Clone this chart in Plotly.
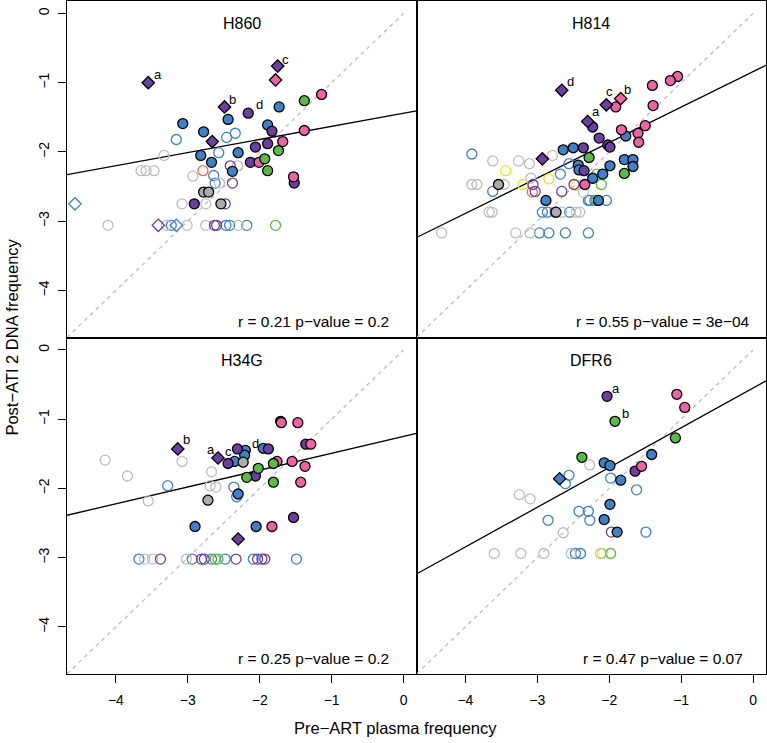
import plotly.graph_objects as go
from plotly.subplots import make_subplots

panels = ["H860", "H814", "H34G", "DFR6"]
stat_text = ["r = 0.21 p−value = 0.2", "r = 0.55 p−value = 3e−04",
             "r = 0.25 p−value = 0.2", "r = 0.47 p−value = 0.07"]
fit_intercept = [-1.44, -0.84, -1.25, -0.55]
fit_slope = [0.19, 0.512, 0.243, 0.574]
tick_vals = [-4, -3, -2, -1, 0]

# kind = colour letter + F(filled)/O(open) + D(diamond)
h860_x = [-3.55, -2.49, -2.66, -1.75, -1.78, -4.57, -3.16, -3.41,
          -3.07, -2.78, -2.44, -2.82, -2.30, -2.67, -2.38, -1.73, -1.89,
          -3.16, -2.46, -2.34, -2.57, -2.64, -2.62, -3.23, -2.47, -2.42, -2.18,
          -3.33, -3.65, -3.58, -3.47, -2.93, -2.56, -3.08, -2.75, -4.11, -3.30, -3.01, -2.75, -2.30, -2.31,
          -2.79, -2.41, -2.38, -2.48, -2.63, -2.60,
          -2.78, -2.71, -2.54,
          -2.91, -2.16, -1.83, -2.06, -1.89, -2.13, -1.52,
          -1.14, -1.38, -1.68, -2.01, -1.53,
          -1.38, -1.74, -1.93, -1.89, -1.78]
h860_y = [-1.00, -1.35, -1.85, -0.76, -0.96, -2.75, -3.06, -3.06,
          -1.59, -1.71, -1.53, -2.05, -2.01, -2.15, -2.28, -1.35, -1.61,
          -1.82, -1.79, -1.73, -2.01, -2.34, -2.45, -3.06, -3.06, -3.06, -3.06,
          -2.05, -2.27, -2.27, -2.27, -2.35, -2.45, -2.75, -2.75, -3.06, -3.06, -3.06, -3.06, -3.06, -2.20,
          -2.27, -2.20, -2.45, -2.75, -3.06, -3.06,
          -2.58, -2.58, -2.75,
          -2.75, -1.44, -1.70, -1.93, -1.88, -2.15, -2.45,
          -1.17, -1.69, -1.85, -2.15, -2.36,
          -1.26, -1.98, -2.10, -2.27, -3.06]
h860_kind = ["pFD", "pFD", "pFD", "pFD", "kFD", "bOD", "bOD", "pOD",
             "bF", "bF", "bF", "bF", "bF", "bF", "bF", "bF", "bF",
             "bO", "bO", "bO", "bO", "bO", "bO", "bO", "bO", "bO", "bO",
             "eO", "eO", "eO", "eO", "eO", "eO", "eO", "eO", "eO", "eO", "eO", "eO", "eO", "eO",
             "rO", "pO", "pO", "pO", "pO", "pO",
             "eF", "eF", "eF",
             "pF", "pF", "pF", "pF", "pF", "pF", "pF",
             "kF", "kF", "kF", "kF", "kF",
             "gF", "gF", "gF", "gF", "gO"]

h814_x = [-2.66, -2.93, -2.30, -2.04, -1.84,
          -2.64, -2.50, -2.43, -2.42, -2.88, -1.77, -1.79, -1.67, -1.67, -1.99, -2.09, -2.23, -2.15,
          -2.36, -2.35, -2.23, -2.14, -2.02, -1.99,
          -2.28, -1.79,
          -2.34, -1.05, -1.15, -1.40, -1.91, -1.39, -1.83, -1.50, -1.60, -1.59,
          -3.54, -2.74,
          -3.91, -2.68, -2.56, -3.62, -2.93, -2.86, -2.55, -2.29, -2.97, -2.84, -2.61, -2.29, -2.27, -2.20, -2.04,
          -3.62, -3.26, -3.11, -2.79, -3.91, -3.84, -3.46, -3.09, -2.36, -3.67, -3.63, -2.66, -2.46, -2.41,
          -4.33, -3.30, -3.10,
          -3.44, -3.20, -2.84, -2.46,
          -3.06, -3.03, -2.66, -2.49, -2.75,
          -3.07, -2.17, -2.11, -2.18]
h814_y = [-1.11, -2.10, -1.56, -1.32, -1.23,
          -1.97, -1.94, -2.19, -2.26, -2.70, -1.77, -2.11, -2.11, -2.21, -2.20, -2.32, -2.38, -2.70,
          -1.94, -2.27, -1.64, -1.80, -1.90, -1.93,
          -2.08, -2.31,
          -2.47, -0.91, -0.97, -1.04, -1.35, -1.33, -1.68, -1.62, -1.73, -1.86,
          -2.47, -2.87,
          -2.03, -2.32, -2.17, -2.57, -2.87, -2.87, -2.87, -2.70, -3.17, -3.17, -3.17, -3.17, -2.70, -2.70, -2.70,
          -2.13, -2.13, -2.17, -2.05, -2.47, -2.47, -2.47, -2.38, -2.58, -2.87, -2.87, -2.87, -2.87, -2.87,
          -3.17, -3.17, -3.17,
          -2.27, -2.47, -2.39, -2.48,
          -2.47, -2.57, -2.57, -2.47, -2.87,
          -2.58, -2.32, -2.47, -2.70]
h814_kind = ["pFD", "pFD", "pFD", "pFD", "kFD",
             "bF", "bF", "bF", "bF", "bF", "bF", "bF", "bF", "bF", "bF", "bF", "bF", "bF",
             "pF", "pF", "pF", "pF", "pF", "pF",
             "gF", "gF",
             "kF", "kF", "kF", "kF", "kF", "kF", "kF", "kF", "kF", "kF",
             "eF", "eF",
             "bO", "bO", "bO", "bO", "bO", "bO", "bO", "bO", "bO", "bO", "bO", "bO", "bO", "bO", "bO",
             "eO", "eO", "eO", "eO", "eO", "eO", "eO", "eO", "eO", "eO", "eO", "eO", "eO", "eO",
             "eO", "eO", "eO",
             "yO", "yO", "yO", "yO",
             "pO", "pO", "pO", "pO", "pO",
             "rO", "gO", "gO", "gO"]

h34g_x = [-3.14, -2.58, -2.30,
          -2.44, -2.31, -1.71, -1.36, -1.88, -2.06, -1.53,
          -2.35, -2.30, -2.90, -1.95, -2.20, -2.21, -2.05,
          -2.72, -2.23,
          -1.70, -1.47, -1.29, -1.76, -1.55, -1.37, -1.43, -1.83,
          -1.81, -2.02, -2.18, -1.81,
          -4.15, -3.84, -3.08, -2.67, -2.69, -2.61, -3.55, -3.60, -3.49, -3.02,
          -3.28, -2.36, -2.32, -3.68, -2.94, -2.67, -2.48, -2.09, -1.49,
          -3.38, -2.81, -2.77, -2.33, -2.03, -1.97, -1.93,
          -2.62, -2.58]
h34g_y = [-1.43, -1.56, -2.73,
          -1.64, -1.43, -1.03, -1.36, -1.43, -1.82, -2.42,
          -1.61, -2.08, -2.55, -1.42, -1.45, -1.52, -2.55,
          -2.17, -1.62,
          -1.05, -1.05, -1.36, -1.61, -1.61, -1.68, -1.91, -2.55,
          -1.64, -1.71, -1.84, -1.91,
          -1.59, -1.82, -1.61, -1.76, -1.96, -1.98, -2.18, -3.02, -3.02, -3.02,
          -1.96, -1.98, -2.12, -3.02, -3.02, -3.02, -3.02, -3.02, -3.02,
          -3.02, -3.02, -3.02, -3.02, -3.02, -3.02, -3.02,
          -3.02, -3.02]
h34g_kind = ["pFD", "pFD", "pFD",
             "pF", "pF", "pF", "pF", "pF", "pF", "pF",
             "bF", "bF", "bF", "bF", "bF", "bF", "bF",
             "eF", "eF",
             "kF", "kF", "kF", "kF", "kF", "kF", "kF", "kF",
             "gF", "gF", "gF", "gF",
             "eO", "eO", "eO", "eO", "eO", "eO", "eO", "eO", "eO", "eO",
             "bO", "bO", "bO", "bO", "bO", "bO", "bO", "bO", "bO",
             "pO", "pO", "pO", "pO", "pO", "pO", "pO",
             "gO", "gO"]

dfr6_x = [-2.69,
          -2.38, -1.92, -1.08,
          -2.03, -1.64,
          -1.06, -0.95, -1.55,
          -1.41, -2.07, -1.99, -1.84, -1.99, -2.07, -1.89,
          -2.27, -3.25, -3.10, -2.64, -3.60, -3.23, -2.91, -2.53, -2.12,
          -2.56, -2.61, -2.85, -2.42, -2.29, -2.27, -2.47, -2.40, -1.98, -1.62, -1.49,
          -1.97, -2.09, -1.98]
dfr6_y = [-1.86,
          -1.55, -1.03, -1.27,
          -0.67, -1.75,
          -0.64, -0.83, -1.68,
          -1.51, -1.63, -1.67, -1.88, -2.23, -2.45, -2.63,
          -1.66, -2.09, -2.15, -2.64, -2.94, -2.94, -2.94, -2.94, -2.94,
          -1.81, -1.93, -2.46, -2.33, -2.33, -2.46, -2.94, -2.94, -1.85, -2.02, -2.63,
          -2.63, -2.94, -2.94]
dfr6_kind = ["bFD",
             "gF", "gF", "gF",
             "pF", "pF",
             "kF", "kF", "kF",
             "bF", "bF", "bF", "bF", "bF", "bF", "bF",
             "eO", "eO", "eO", "eO", "eO", "eO", "eO", "eO", "eO",
             "bO", "bO", "bO", "bO", "bO", "bO", "bO", "bO", "bO", "bO", "bO",
             "pO", "yO", "gO"]

# letter labels next to highlighted points
h860_lab = [("a", -3.42, -0.88), ("b", -2.38, -1.24), ("c", -1.64, -0.66), ("d", -2.00, -1.31)]
h814_lab = [("d", -2.54, -0.98), ("a", -2.19, -1.41), ("c", -1.99, -1.12), ("b", -1.74, -1.10)]
h34g_lab = [("b", -3.02, -1.29), ("a", -2.68, -1.44), ("c", -2.44, -1.46), ("d", -2.06, -1.35)]
dfr6_lab = [("a", -1.91, -0.56), ("b", -1.78, -0.92)]

colour = {"b": "#3F80C9", "p": "#6A3FA0", "k": "#EF62A3", "g": "#5BBA45",
          "e": "#BDBDBD", "y": "#F2E410", "r": "#F06A4A"}
grey_fill = "#ABABAB"

FONT = "Liberation Sans, Arial, Helvetica, sans-serif"
XR = [-4.68, 0.18]

fig = make_subplots(rows=2, cols=2, horizontal_spacing=0, vertical_spacing=0)

data = [(h860_x, h860_y, h860_kind, h860_lab), (h814_x, h814_y, h814_kind, h814_lab),
        (h34g_x, h34g_y, h34g_kind, h34g_lab), (dfr6_x, dfr6_y, dfr6_kind, dfr6_lab)]

for n, (xs, ys, kinds, labs) in enumerate(data):
    row, col = n // 2 + 1, n % 2 + 1
    ax = "" if n == 0 else str(n + 1)
    # identity line
    fig.add_trace(go.Scatter(x=[XR[0], 0], y=[XR[0], 0], mode="lines",
                             line=dict(color="#BDBDBD", width=1.3, dash="4px,4px"),
                             hoverinfo="skip"), row=row, col=col)
    # regression line
    fy = [fit_intercept[n] + fit_slope[n] * v for v in XR]
    fig.add_trace(go.Scatter(x=XR, y=fy, mode="lines", line=dict(color="black", width=1.3),
                             hoverinfo="skip"), row=row, col=col)
    order = sorted(set(kinds), key=lambda k: ("F" in k, "D" in k))
    for k in order:
        idx = [i for i, kk in enumerate(kinds) if kk == k]
        c = colour[k[0]]
        diamond = "D" in k
        if "F" in k:
            fill = grey_fill if k[0] == "e" else c
            marker = dict(symbol="diamond" if diamond else "circle", size=9.5 if diamond else 10,
                          color=fill, line=dict(color="black", width=1.3))
        else:
            marker = dict(symbol="diamond-open" if diamond else "circle-open",
                          size=9.5 if diamond else 10, color=c, line=dict(color=c, width=1.3))
        fig.add_trace(go.Scatter(x=[xs[i] for i in idx], y=[ys[i] for i in idx], mode="markers",
                                 marker=marker), row=row, col=col)
    fig.add_annotation(x=-2.25, y=-0.15, xref="x" + ax, yref="y" + ax, text=panels[n],
                       showarrow=False, font=dict(size=16, color="black", family=FONT))
    fig.add_annotation(x=-1.25, y=-4.45, xref="x" + ax, yref="y" + ax, text=stat_text[n],
                       showarrow=False, font=dict(size=15.5, color="black", family=FONT))
    for t, lx, ly in labs:
        fig.add_annotation(x=lx, y=ly, xref="x" + ax, yref="y" + ax, text=t, showarrow=False,
                           font=dict(size=13, color="black", family=FONT))

    fig.update_xaxes(range=XR, tickvals=tick_vals, showgrid=False, zeroline=False,
                     showline=True, linecolor="black", linewidth=1, mirror=True,
                     ticks="outside" if row == 2 else "", ticklen=8, tickcolor="black",
                     showticklabels=(row == 2), ticklabelstandoff=5, automargin=False,
                     tickfont=dict(size=14, color="black", family=FONT), row=row, col=col)
    fig.update_yaxes(range=XR, tickvals=tick_vals, showgrid=False, zeroline=False,
                     showline=True, linecolor="black", linewidth=1, mirror=True,
                     ticks="outside" if col == 1 else "", ticklen=8, tickcolor="black",
                     showticklabels=(col == 1), tickangle=-90, ticklabelstandoff=3,
                     automargin=False,
                     tickfont=dict(size=14, color="black", family=FONT), row=row, col=col)

fig.add_annotation(x=0.47, y=-0.08, xref="paper", yref="paper", text="Pre−ART plasma frequency",
                   showarrow=False, yanchor="middle", font=dict(size=16.5, color="black", family=FONT))
fig.add_annotation(x=-0.08, y=0.5, xref="paper", yref="paper", text="Post−ATI 2 DNA frequency",
                   textangle=-90, showarrow=False, xanchor="center",
                   font=dict(size=16.5, color="black", family=FONT))

fig.update_layout(width=767, height=743, margin=dict(l=67, r=1, t=1, b=69),
                  plot_bgcolor="white", paper_bgcolor="white", showlegend=False,
                  font=dict(family=FONT))

fig.write_html("out.html", config={"displayModeBar": False},
               post_script="document.body.style.margin='0';")
